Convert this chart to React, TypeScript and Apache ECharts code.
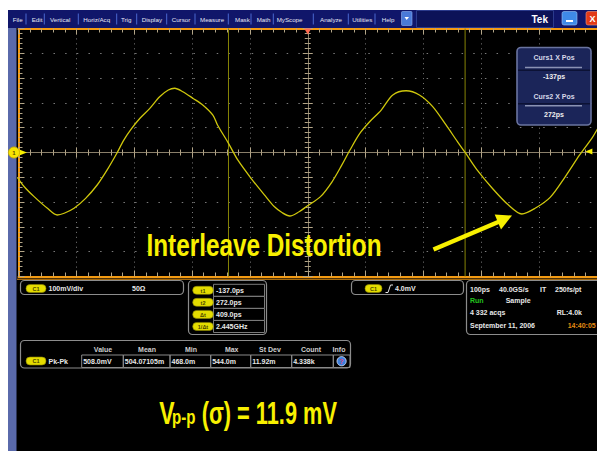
import React, { useEffect, useRef } from "react";
import * as echarts from "echarts";

// ---------- DATA ----------
const TIME_PS = [
  -502, -490, -473, -450, -433, -421, -404, -384, -364, -347,
  -330, -318, -304, -290, -273, -256, -241, -230, -216, -198,
  -181, -164, -156, -137, -121, -98, -75, -58, -44, -31,
  -15, -1, 22, 42, 59, 73, 90, 107, 127, 147,
  170, 193, 216, 239, 259, 273, 293, 319, 347, 370,
  393, 419, 445, 470, 491, 502,
];
const VOLT_MV = [
  -100, -138, -178, -225, -252, -245, -225, -185, -131, -71,
  -3, 50, 98, 138, 178, 225, 252, 259, 245, 218,
  191, 151, 111, 37, -30, -104, -171, -218, -243, -256,
  -239, -216, -178, -118, -50, 10, 77, 124, 171, 232,
  249, 232, 185, 111, 43, -3, -71, -144, -212, -248,
  -225, -181, -98, -10, 57, 100,
];
const CURSOR_PS = [-137, 272];
const TRIGGER_PS = 0;
const TRIGGER_LEVEL_MV = 4;
const X_RANGE = [-500, 500];
const X_STEP = 100;
const Y_RANGE = [-500, 500];
const Y_STEP = 100;

const MENU_ITEMS = ["File", "Edit", "Vertical", "Horiz/Acq", "Trig", "Display", "Cursor", "Measure", "Mask", "Math", "MyScope", "Analyze", "Utilities", "Help"];
const CURSOR_TITLES = ["Curs1 X Pos", "Curs2 X Pos"];
const CURSOR_READOUTS = ["-137ps", "272ps"];
const CURSOR_ROW_LABELS = ["t1", "t2", "Δt", "1/Δt"];
const CURSOR_ROW_VALUES = ["-137.0ps", "272.0ps", "409.0ps", "2.445GHz"];
const MEAS_HEADERS = ["Value", "Mean", "Min", "Max", "St Dev", "Count", "Info"];
const MEAS_VALUES = ["508.0mV", "504.07105m", "468.0m", "544.0m", "11.92m", "4.338k"];
const VERT_SETTINGS = ["100mV/div", "50Ω"];
const TRIG_SETTING = "4.0mV";
const ACQ_ROW1 = ["100ps", "40.0GS/s", "IT", "250fs/pt"];
const ACQ_ROW2 = ["Run", "Sample"];
const ACQ_ROW3 = ["4 332 acqs", "RL:4.0k"];
const ACQ_ROW4 = ["September 11, 2006", "14:40:05"];
const ANNOTATION = "Interleave Distortion";
const RESULT_PARTS = ["V", "p-p", "(σ) = 11.9 mV"];

// ---------- LAYOUT / STYLE ----------
const FONT = '"Liberation Sans", Arial, Helvetica, sans-serif';
const ORANGE = "#f39a12";
const TICK = "#b3a587";
const CROSS = "#8a7f6a";
const DOT = "#7a7a7a";
const TRACE = "#cfc70c";
const CURSOR_COL = "#868406";
const YEL = "#f8f000";
const PANEL_STROKE = "#8c8c8c";

const MENU_X = [12.7, 31.7, 50, 83.3, 121, 141.7, 171.7, 200, 235, 256.7, 276.7, 320, 352.3, 381.7];
const MENU_SEP_X = [26, 44.3, 78.3, 116.7, 136.7, 166.7, 195, 228.3, 251, 273.3, 313.3, 348.3, 375];
const MEAS_HEAD_X = [103, 147, 191, 231.7, 270, 311, 339];
const MEAS_CELL_X = [81.7, 123.3, 170, 210.7, 250.7, 291.7, 333.3, 350];

const txt = (x: number, y: number, s: string, o: any = {}) => ({
  type: "text",
  x,
  y,
  z: o.z ?? 100,
  silent: true,
  scaleX: o.sx ?? 1,
  style: {
    text: s,
    fill: o.fill ?? "#e8e8e8",
    font: `${o.weight ?? "bold"} ${o.size ?? 7}px ${FONT}`,
    align: o.align ?? "left",
    textAlign: o.align ?? "left",
    verticalAlign: "middle",
    textVerticalAlign: "middle",
  },
});
const rect = (x: number, y: number, w: number, h: number, style: any, r = 0, z = 50) => ({
  type: "rect",
  z,
  silent: true,
  shape: { x, y, width: w, height: h, r },
  style,
});
const line = (x1: number, y1: number, x2: number, y2: number, stroke: string, lw = 1, z = 60) => ({
  type: "line",
  z,
  silent: true,
  shape: { x1, y1, x2, y2 },
  style: { stroke, lineWidth: lw },
});
const pill = (x: number, y: number, w: number, label: string) => [
  rect(x, y, w, 8, { fill: "#e4dc00", stroke: "#8a8400", lineWidth: 0.6 }, 4, 70),
  txt(x + w / 2, y + 4.2, label, { align: "center", size: 5.5, fill: "#4a4600", z: 80 }),
];

function buildGraphics() {
  const g: any[] = [];
  // page margins & frame
  g.push(rect(0, 0, 8, 451, { fill: "#ffffff" }, 0, 10));
  g.push(rect(0, 0, 597, 10, { fill: "#ffffff" }, 0, 10));
  g.push(rect(8, 28, 8.5, 423, { fill: "#5a6aab" }, 0, 10));
  // menu bar
  g.push(rect(8, 10, 589, 18, { fill: "#10166a" }, 0, 10));
  g.push(rect(416.5, 10.5, 137, 17, { fill: "#0c1258", stroke: "#2b3a8c", lineWidth: 1 }, 0, 11));
  MENU_ITEMS.forEach((m, i) => g.push(txt(MENU_X[i], 19, m, { weight: "normal", size: 6.2, fill: "#e4e6f4" })));
  MENU_SEP_X.forEach((x) => g.push(line(x, 13.5, x, 24.5, "#4a68d0", 1)));
  g.push(rect(401.5, 11.5, 10.5, 14, { fill: "#4a7ad8", stroke: "#8fb0f0", lineWidth: 0.6 }, 1, 12));
  g.push({ type: "polygon", z: 13, silent: true, shape: { points: [[404.5, 17], [409, 17], [406.7, 20]] }, style: { fill: "#fff" } });
  g.push(txt(548, 19, "Tek", { size: 10, fill: "#ffffff", align: "right" }));
  g.push(rect(562, 11.5, 15, 13.5, { fill: "#3f8ae8", stroke: "#9cc4f6", lineWidth: 0.6 }, 2, 12));
  g.push(rect(566, 20, 7, 2, { fill: "#ffffff" }, 0, 13));
  g.push(rect(586, 11.5, 13, 13.5, { fill: "#e23a18", stroke: "#f29a80", lineWidth: 0.6 }, 2, 12));
  g.push(txt(592.5, 18.5, "X", { size: 9, fill: "#ffffff", align: "center" }));

  // extra bottom stripe below graticule
  g.push(line(17, 279.2, 597, 279.2, ORANGE, 1, 40));

  // channel 1 ground marker
  g.push({ type: "polygon", z: 90, silent: true, shape: { points: [[18, 149], [27, 152.5], [18, 156]] }, style: { fill: YEL } });
  g.push({ type: "circle", z: 91, silent: true, shape: { cx: 14, cy: 152.5, r: 5.6 }, style: { fill: "#f6e400", stroke: "#c9a800", lineWidth: 0.8 } });
  g.push(txt(14, 152.7, "1", { align: "center", size: 6, fill: "#5a4a00", z: 92 }));

  // cursor readout box
  g.push(rect(517, 47.5, 74, 77.5, { fill: "#1b2559", stroke: "#6a74a0", lineWidth: 1.6 }, 4, 95));
  g.push(line(518, 70.3, 590, 70.3, "#0c1235", 1.5, 96));
  g.push(line(518, 103.8, 590, 103.8, "#0c1235", 1.5, 96));
  g.push(line(525, 67.5, 582, 67.5, "#8a92b4", 1.5, 96));
  g.push(line(525, 105.8, 582, 105.8, "#8a92b4", 1.5, 96));
  g.push(txt(554, 57.3, CURSOR_TITLES[0], { align: "center", fill: "#d6d8e8" }));
  g.push(txt(554, 76.7, CURSOR_READOUTS[0], { align: "center", fill: "#eeeeee" }));
  g.push(txt(554, 96, CURSOR_TITLES[1], { align: "center", fill: "#d6d8e8" }));
  g.push(txt(554, 114.5, CURSOR_READOUTS[1], { align: "center", fill: "#eeeeee" }));

  // annotation + arrow
  g.push(txt(146.5, 244.8, ANNOTATION, { size: 32, fill: YEL, sx: 0.76, z: 110 }));
  g.push(line(433.5, 249.5, 500, 221.3, YEL, 4.5, 110));
  g.push({ type: "polygon", z: 111, silent: true, shape: { points: [[512, 215.6], [494.7, 214.6], [501, 229.4]] }, style: { fill: YEL } });

  // Panel A: vertical settings
  g.push(rect(20.5, 280.5, 163, 14, { fill: "none", stroke: PANEL_STROKE, lineWidth: 1.2 }, 4, 60));
  g.push(...pill(26, 284.5, 20, "C1"));
  g.push(txt(48.5, 288.5, VERT_SETTINGS[0]));
  g.push(txt(132, 288.5, VERT_SETTINGS[1]));

  // Panel B: cursor rows
  g.push(rect(188.5, 280.5, 78, 54, { fill: "none", stroke: PANEL_STROKE, lineWidth: 1.2 }, 4, 60));
  CURSOR_ROW_LABELS.forEach((lab, i) => {
    const y0 = 284.3 + i * 12.05;
    g.push(...pill(192.7, y0 + 2, 20.6, lab));
    g.push(rect(213.5, y0, 51, 12.05, { fill: "none", stroke: "#7a7a7a", lineWidth: 1 }, 0, 65));
    g.push(txt(216, y0 + 6.2, CURSOR_ROW_VALUES[i]));
  });

  // Panel C: measurement table
  g.push(rect(20.5, 340.5, 330, 27.5, { fill: "none", stroke: PANEL_STROKE, lineWidth: 1.2 }, 4, 60));
  MEAS_HEADERS.forEach((h, i) => g.push(txt(MEAS_HEAD_X[i], 349, h, { align: "center", fill: "#cfcfcf" })));
  g.push(...pill(26, 357, 20, "C1"));
  g.push(txt(48.5, 361, "Pk-Pk"));
  for (let i = 0; i < MEAS_CELL_X.length - 1; i++) {
    g.push(rect(MEAS_CELL_X[i], 355, MEAS_CELL_X[i + 1] - MEAS_CELL_X[i], 12.5, { fill: "none", stroke: "#8a8a8a", lineWidth: 1 }, 0, 65));
    if (i < MEAS_VALUES.length) g.push(txt(MEAS_CELL_X[i] + 1.5, 361.3, MEAS_VALUES[i]));
  }
  g.push({ type: "circle", z: 90, silent: true, shape: { cx: 341.6, cy: 361.2, r: 4.6 }, style: { fill: "#3d7fdc", stroke: "#dfe8ff", lineWidth: 0.8 } });
  g.push(txt(341.6, 361.4, "?", { align: "center", size: 6.5, fill: "#e8406a", z: 91 }));

  // Panel D: trigger
  g.push(rect(351.5, 280.5, 112, 14, { fill: "none", stroke: PANEL_STROKE, lineWidth: 1.2 }, 4, 60));
  g.push(...pill(365, 284.5, 17, "C1"));
  g.push({ type: "polyline", z: 80, silent: true, shape: { points: [[385.5, 292.5], [388, 292.5], [390.5, 285], [393, 285]] }, style: { stroke: "#e8e8e8", lineWidth: 1, fill: "none" } });
  g.push(txt(395, 288.5, TRIG_SETTING));

  // Panel E: acquisition
  g.push(rect(466.5, 280.5, 140, 54, { fill: "none", stroke: PANEL_STROKE, lineWidth: 1.2 }, 4, 60));
  const r1x = [470, 499, 540, 555];
  ACQ_ROW1.forEach((s, i) => g.push(txt(r1x[i], 289, s)));
  g.push(txt(470, 300.7, ACQ_ROW2[0], { fill: "#22c41e" }));
  g.push(txt(505.7, 300.7, ACQ_ROW2[1]));
  g.push(txt(470, 312.7, ACQ_ROW3[0]));
  g.push(txt(582, 312.7, ACQ_ROW3[1], { align: "right" }));
  g.push(txt(470, 325, ACQ_ROW4[0]));
  g.push(txt(567.7, 325, ACQ_ROW4[1], { fill: "#e38c12" }));

  // result line
  g.push(txt(159.3, 413.3, RESULT_PARTS[0], { size: 32, fill: YEL, sx: 0.72 }));
  g.push(txt(172, 416.8, RESULT_PARTS[1], { size: 21, fill: YEL, sx: 0.72 }));
  g.push(txt(201.7, 413.3, RESULT_PARTS[2], { size: 32, fill: YEL, sx: 0.68 }));
  return g;
}

function axis(isX: boolean, position: string, onZero: boolean, tickLen: number, minorLen: number, lineColor: string, lineWidth: number, split: boolean) {
  const rng = isX ? X_RANGE : Y_RANGE;
  return {
    type: "value",
    min: rng[0],
    max: rng[1],
    interval: isX ? X_STEP : Y_STEP,
    position,
    silent: true,
    axisLine: onZero
      ? { show: true, onZero: true, onZeroAxisIndex: 0, lineStyle: { color: lineColor, width: lineWidth } }
      : { show: true, onZero: false, lineStyle: { color: lineColor, width: lineWidth } },
    axisTick: { show: true, inside: true, length: tickLen, lineStyle: { color: TICK, width: 1 } },
    minorTick: { show: true, splitNumber: 5, length: minorLen, lineStyle: { color: TICK, width: 1 } },
    axisLabel: { show: false },
    splitLine: split
      ? { show: true, lineStyle: { color: DOT, width: 1, type: isX ? [1, 3.96] : [1.5, 10.16] } }
      : { show: false },
    minorSplitLine: { show: false },
  };
}

function buildOption() {
  const cursorSeries = CURSOR_PS.map((c) => ({
    type: "line",
    xAxisIndex: 0,
    yAxisIndex: 0,
    silent: true,
    showSymbol: false,
    z: 3,
    data: [[c, Y_RANGE[0]], [c, Y_RANGE[1]]],
    lineStyle: { color: CURSOR_COL, width: 1 },
    emphasis: { disabled: true },
  }));
  return {
    animation: false,
    backgroundColor: "#000000",
    grid: { left: 18.5, top: 28.5, width: 583, height: 248, containLabel: false },
    xAxis: [
      axis(true, "bottom", false, 6, 4, ORANGE, 2, true),
      axis(true, "top", false, 6, 4, ORANGE, 2, false),
      axis(true, "bottom", true, 5, 3, CROSS, 1, false),
      axis(true, "top", true, 5, 3, CROSS, 1, false),
    ],
    yAxis: [
      axis(false, "left", false, 6, 4, ORANGE, 2, true),
      axis(false, "left", true, 5, 3, CROSS, 1, false),
      axis(false, "right", true, 5, 3, CROSS, 1, false),
    ],
    graphic: { elements: buildGraphics() },
    series: [
      ...cursorSeries,
      {
        type: "line",
        xAxisIndex: 0,
        yAxisIndex: 0,
        data: TIME_PS.map((t, i) => [t, VOLT_MV[i]]),
        showSymbol: false,
        smooth: 0.3,
        clip: true,
        z: 5,
        lineStyle: { color: TRACE, width: 1.3 },
        markPoint: {
          silent: true,
          label: { show: false },
          data: [
            { coord: [TRIGGER_PS, Y_RANGE[1]], symbol: "triangle", symbolRotate: 180, symbolSize: [7, 6], symbolOffset: [0, 3], itemStyle: { color: "#ff6a50" } },
            { coord: [486, TRIGGER_LEVEL_MV], symbol: "triangle", symbolRotate: 90, symbolSize: [6, 7], itemStyle: { color: YEL } },
          ],
        },
      },
    ],
  };
}

export default function App() {
  const ref = useRef<HTMLDivElement>(null);
  useEffect(() => {
    const chart = echarts.init(ref.current!, null, { renderer: "svg" });
    chart.setOption(buildOption() as any);
    return () => chart.dispose();
  }, []);
  return <div ref={ref} style={{ position: "absolute", left: 0, top: 0, width: 597, height: 451 }} />;
}
